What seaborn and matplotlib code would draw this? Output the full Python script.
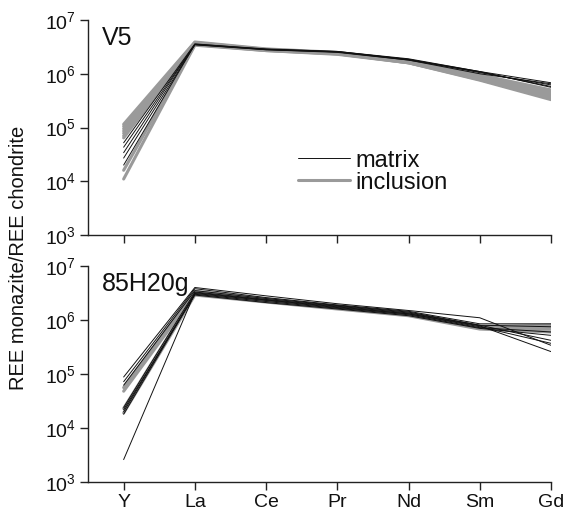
import matplotlib
matplotlib.use("Agg")
import matplotlib.pyplot as plt
from matplotlib.lines import Line2D
import seaborn as sns
import pandas as pd

sns.set_theme(style="ticks")
plt.rcParams["font.family"] = ["Liberation Sans", "DejaVu Sans"]

elements = ["Y", "La", "Ce", "Pr", "Nd", "Sm", "Gd"]

# V5 sample, chondrite-normalised REE in monazite
v5_inclusion = [
    [1.15e5, 3.9e6, 2.9e6, 2.5e6, 1.75e6, 9.0e5, 4.6e5],
    [1.05e5, 3.8e6, 2.85e6, 2.45e6, 1.7e6, 8.5e5, 4.2e5],
    [9.5e4, 3.7e6, 2.8e6, 2.4e6, 1.65e6, 8.0e5, 3.8e5],
    [8.6e4, 3.75e6, 2.8e6, 2.45e6, 1.7e6, 8.2e5, 3.5e5],
    [7.8e4, 3.6e6, 2.75e6, 2.35e6, 1.6e6, 7.6e5, 3.3e5],
    [7.0e4, 3.65e6, 2.8e6, 2.4e6, 1.7e6, 9.5e5, 5.0e5],
    [6.4e4, 3.5e6, 2.7e6, 2.35e6, 1.65e6, 8.8e5, 4.4e5],
    [1.6e4, 3.5e6, 2.75e6, 2.4e6, 1.6e6, 7.8e5, 3.6e5],
    [1.1e4, 3.4e6, 2.7e6, 2.3e6, 1.6e6, 8.3e5, 4.0e5],
]
v5_matrix = [
    [5.2e4, 3.6e6, 2.85e6, 2.6e6, 1.9e6, 1.1e6, 6.8e5],
    [4.3e4, 3.5e6, 2.8e6, 2.55e6, 1.85e6, 1.05e6, 6.2e5],
    [3.4e4, 3.55e6, 2.9e6, 2.6e6, 1.85e6, 1.1e6, 5.6e5],
    [2.7e4, 3.45e6, 2.8e6, 2.5e6, 1.8e6, 1.0e6, 6.5e5],
    [2.0e4, 3.5e6, 2.85e6, 2.55e6, 1.8e6, 1.08e6, 5.8e5],
]

# 85H20g sample
h20_inclusion = [
    [5.6e4, 3.4e6, 2.45e6, 1.8e6, 1.35e6, 7.6e5, 8.0e5],
    [4.8e4, 3.0e6, 2.2e6, 1.65e6, 1.25e6, 7.0e5, 6.8e5],
    [2.3e4, 3.1e6, 2.3e6, 1.7e6, 1.3e6, 7.4e5, 7.2e5],
    [1.9e4, 2.9e6, 2.15e6, 1.6e6, 1.2e6, 6.8e5, 6.0e5],
]
h20_matrix = [
    [8.8e4, 4.0e6, 2.8e6, 2.0e6, 1.5e6, 1.1e6, 3.4e5],
    [7.2e4, 3.8e6, 2.6e6, 1.9e6, 1.45e6, 8.5e5, 8.5e5],
    [2.4e4, 3.3e6, 2.4e6, 1.8e6, 1.35e6, 8.0e5, 4.2e5],
    [2.0e4, 3.1e6, 2.3e6, 1.7e6, 1.3e6, 7.5e5, 3.7e5],
    [1.8e4, 3.0e6, 2.2e6, 1.65e6, 1.25e6, 7.2e5, 6.0e5],
    [2.6e3, 3.2e6, 2.35e6, 1.75e6, 1.3e6, 7.8e5, 2.6e5],
    [6.2e4, 3.5e6, 2.5e6, 1.85e6, 1.4e6, 8.0e5, 7.5e5],
    [2.2e4, 2.9e6, 2.1e6, 1.6e6, 1.2e6, 7.0e5, 5.2e5],
]

panels = [
    ("V5", v5_inclusion, v5_matrix),
    ("85H20g", h20_inclusion, h20_matrix),
]

INC_COLOR, INC_LW = "#9a9a9a", 2.2
MAT_COLOR, MAT_LW = "#111111", 0.7


def to_long(rows, kind):
    recs = []
    for i, vals in enumerate(rows):
        for el, v in zip(elements, vals):
            recs.append({"element": elements.index(el), "value": v,
                         "sample": f"{kind}{i}", "kind": kind})
    return pd.DataFrame(recs)


fig = plt.figure(figsize=(5.68, 5.16), dpi=100)
ax_top = fig.add_axes([0.155, 0.5446, 0.815, 0.4166])
ax_bot = fig.add_axes([0.155, 0.0659, 0.815, 0.4186])

for ax, (name, inc, mat) in zip([ax_top, ax_bot], panels):
    sns.lineplot(data=to_long(inc, "inclusion"), x="element", y="value",
                 units="sample", estimator=None, color=INC_COLOR,
                 linewidth=INC_LW, ax=ax, legend=False)
    sns.lineplot(data=to_long(mat, "matrix"), x="element", y="value",
                 units="sample", estimator=None, color=MAT_COLOR,
                 linewidth=MAT_LW, ax=ax, legend=False)
    ax.set_yscale("log")
    ax.set_ylim(1e3, 1e7)
    ax.set_xlim(-0.5, 6)
    ax.set_yticks([1e3, 1e4, 1e5, 1e6, 1e7])
    ax.yaxis.set_minor_locator(matplotlib.ticker.NullLocator())
    ax.set_xticks(range(len(elements)))
    ax.set_xlabel("")
    ax.set_ylabel("")
    for s in ["top", "right"]:
        ax.spines[s].set_visible(False)
    for s in ["left", "bottom"]:
        ax.spines[s].set_color("#222222")
        ax.spines[s].set_linewidth(1.0)
    ax.tick_params(axis="both", direction="out", length=6, width=1.0,
                   color="#222222", labelsize=14, labelcolor="#111111", pad=3)
    ax.text(0.03, 0.97, name, transform=ax.transAxes, ha="left", va="top",
            fontsize=18, color="#111111")

ax_top.set_xticklabels([])
ax_bot.set_xticklabels(elements)

fig.text(0.032, 0.5, "REE monazite/REE chondrite", rotation=90,
         ha="center", va="center", fontsize=14.5, color="#111111")

handles = [
    Line2D([], [], color=MAT_COLOR, linewidth=MAT_LW),
    Line2D([], [], color=INC_COLOR, linewidth=INC_LW),
]
fig.legend(handles, ["matrix", "inclusion"], loc="center left",
           bbox_to_anchor=(0.5246, 0.6676), bbox_transform=fig.transFigure,
           frameon=False, fontsize=17, handlelength=2.2, handletextpad=0.25,
           labelspacing=0.0, borderpad=0, borderaxespad=0, labelcolor="#111111")

fig.savefig("out.png", dpi=100)
